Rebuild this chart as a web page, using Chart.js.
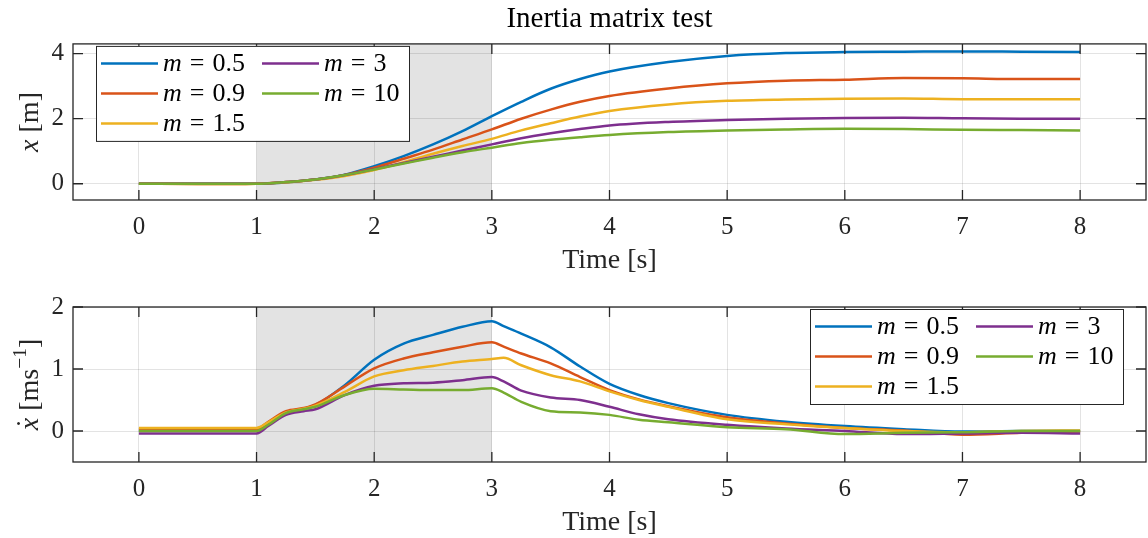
<!DOCTYPE html>
<html>
<head>
<meta charset="utf-8">
<script src="https://cdn.jsdelivr.net/npm/chart.js@4.4.1/dist/chart.umd.min.js"></script>
<style>
  body { margin: 0; background: #fff; }
  .box { position: absolute; left: 0; width: 1148px; }
</style>
</head>
<body>
<div class="box" style="top:270px;height:268px"><canvas id="velChart"></canvas></div>
<div class="box" style="top:0;height:285px"><canvas id="posChart"></canvas></div>
<script>
// masses used in the test, one curve per mass
var masses = ['0.5', '0.9', '1.5', '3', '10'];
var colors = ['#0072BD', '#D95319', '#EDB120', '#7E2F8E', '#77AC30'];

// shaded input window [s]
var shadeStart = 1;
var shadeEnd = 3;

// position x [m]
var posTime = [0, 0.5, 1, 1.25, 1.5, 1.75, 2, 2.25, 2.5, 2.75, 3, 3.25, 3.5, 3.75, 4, 4.5, 5, 5.5, 6, 6.5, 7, 7.5, 8];
var posM05 = [0, 0, 0, 0.04, 0.13, 0.28, 0.54, 0.85, 1.21, 1.62, 2.08, 2.52, 2.92, 3.22, 3.45, 3.74, 3.93, 4.02, 4.05, 4.06, 4.07, 4.06, 4.05];
var posM09 = [0, -0.01, 0, 0.05, 0.13, 0.27, 0.49, 0.77, 1.05, 1.36, 1.67, 2.0, 2.28, 2.52, 2.70, 2.93, 3.09, 3.17, 3.20, 3.25, 3.24, 3.22, 3.22];
var posM15 = [0, -0.01, 0, 0.04, 0.12, 0.24, 0.42, 0.66, 0.92, 1.16, 1.38, 1.64, 1.86, 2.07, 2.24, 2.44, 2.55, 2.59, 2.61, 2.62, 2.60, 2.60, 2.60];
var posM3 = [0, 0, 0, 0.05, 0.13, 0.27, 0.45, 0.64, 0.83, 1.02, 1.21, 1.40, 1.55, 1.68, 1.79, 1.90, 1.96, 2.0, 2.02, 2.03, 2.01, 2.0, 2.0];
var posM10 = [0, 0, 0, 0.05, 0.13, 0.27, 0.44, 0.62, 0.80, 0.97, 1.11, 1.25, 1.35, 1.43, 1.50, 1.59, 1.64, 1.67, 1.69, 1.68, 1.66, 1.65, 1.64];

// velocity xdot [m/s]
var velTime = [0, 0.5, 1, 1.1, 1.25, 1.4, 1.5, 1.75, 2, 2.25, 2.5, 2.75, 3, 3.1, 3.25, 3.5, 3.75, 4, 4.25, 4.5, 5, 5.5, 6, 6.5, 7, 7.5, 8];
var velM05 = [0.01, 0.01, 0.01, 0.12, 0.29, 0.36, 0.42, 0.74, 1.15, 1.41, 1.55, 1.68, 1.77, 1.69, 1.57, 1.35, 1.04, 0.76, 0.58, 0.45, 0.26, 0.15, 0.08, 0.03, -0.01, 0.0, 0.0];
var velM09 = [0.03, 0.03, 0.03, 0.15, 0.32, 0.37, 0.43, 0.72, 1.01, 1.17, 1.27, 1.36, 1.43, 1.36, 1.25, 1.09, 0.87, 0.66, 0.51, 0.40, 0.22, 0.12, 0.05, 0.01, -0.06, -0.03, -0.01];
var velM15 = [0.05, 0.05, 0.05, 0.14, 0.30, 0.36, 0.41, 0.63, 0.88, 0.98, 1.05, 1.12, 1.16, 1.18, 1.06, 0.90, 0.80, 0.64, 0.50, 0.39, 0.19, 0.11, 0.05, 0.0, -0.02, 0.0, 0.01];
var velM3 = [-0.04, -0.04, -0.04, 0.08, 0.26, 0.32, 0.35, 0.58, 0.73, 0.77, 0.78, 0.82, 0.87, 0.80, 0.65, 0.54, 0.50, 0.39, 0.27, 0.19, 0.10, 0.04, 0.0, -0.05, -0.04, -0.03, -0.04];
var velM10 = [0, 0, 0, 0.10, 0.29, 0.35, 0.39, 0.58, 0.68, 0.67, 0.66, 0.66, 0.69, 0.62, 0.47, 0.32, 0.30, 0.26, 0.18, 0.14, 0.06, 0.03, -0.05, -0.03, -0.02, 0.0, 0.0];

var FONT = 'Liberation Serif';
var TXT = '#262626';
Chart.defaults.font.family = FONT;
Chart.defaults.color = TXT;

function makeDatasets(time, series) {
  return series.map(function (vals, k) {
    return {
      label: 'm = ' + masses[k],
      data: time.map(function (t, i) { return { x: t, y: vals[i] }; }),
      borderColor: colors[k],
      backgroundColor: colors[k],
      borderWidth: 2.5,
      pointRadius: 0,
      cubicInterpolationMode: 'monotone',
      order: series.length - k   // later curves on top, like MATLAB
    };
  });
}

// draw text pieces in a row; italic / superscript / dot-above pieces
function drawRuns(ctx, runs, x, y, size) {
  runs.forEach(function (r) {
    var s = r.sup ? size * 0.7 : size;
    ctx.font = (r.it ? 'italic ' : '') + s + 'px "' + FONT + '"';
    var w = ctx.measureText(r.t).width;
    ctx.fillText(r.t, x, r.sup ? y - size * 0.42 : y);
    if (r.dot) {
      ctx.font = s + 'px "' + FONT + '"';
      ctx.textAlign = 'center';
      ctx.fillText('\u02D9', x + w * 0.55, y - size * 0.12);
      ctx.textAlign = 'left';
    }
    x += w + (r.gap || 0);
  });
  return x;
}
function runsWidth(ctx, runs, size) {
  var w = 0;
  runs.forEach(function (r) {
    var s = r.sup ? size * 0.7 : size;
    ctx.font = (r.it ? 'italic ' : '') + s + 'px "' + FONT + '"';
    w += ctx.measureText(r.t).width + (r.gap || 0);
  });
  return w;
}

var matlabAxes = {
  id: 'matlabAxes',
  beforeDraw: function (chart) {
    var a = chart.chartArea, ctx = chart.ctx, xs = chart.scales.x;
    var x0 = xs.getPixelForValue(shadeStart), x1 = xs.getPixelForValue(shadeEnd);
    ctx.save();
    ctx.fillStyle = '#e3e3e3';
    ctx.fillRect(x0, a.top, x1 - x0, a.bottom - a.top);
    ctx.restore();
  },
  afterDatasetsDraw: function (chart) {
    var a = chart.chartArea, ctx = chart.ctx, xs = chart.scales.x, ys = chart.scales.y;
    var tl = 10;
    ctx.save();
    ctx.strokeStyle = TXT;
    ctx.lineWidth = 1.3;
    ctx.strokeRect(a.left, a.top, a.right - a.left, a.bottom - a.top);
    ctx.beginPath();
    xs.ticks.forEach(function (t) {
      var px = xs.getPixelForValue(t.value);
      ctx.moveTo(px, a.bottom); ctx.lineTo(px, a.bottom - tl);
      ctx.moveTo(px, a.top); ctx.lineTo(px, a.top + tl);
    });
    ys.ticks.forEach(function (t) {
      var py = ys.getPixelForValue(t.value);
      ctx.moveTo(a.left, py); ctx.lineTo(a.left + tl, py);
      ctx.moveTo(a.right, py); ctx.lineTo(a.right - tl, py);
    });
    ctx.stroke();
    ctx.restore();
  },
  afterDraw: function (chart, args, opts) {
    var a = chart.chartArea, ctx = chart.ctx;
    ctx.save();
    // y axis label, rotated
    var ysz = 28;
    var yw = runsWidth(ctx, opts.yRuns, ysz);
    ctx.translate(38, (a.top + a.bottom) / 2);
    ctx.rotate(-Math.PI / 2);
    ctx.fillStyle = TXT;
    ctx.textBaseline = 'alphabetic';
    ctx.textAlign = 'left';
    drawRuns(ctx, opts.yRuns, -yw / 2, 0, ysz);
    ctx.restore();

    // legend, 3 rows, column-major
    var sets = chart.data.datasets;
    var rows = 3, rowH = 30, colW = 161, lineLen = 57, lsz = 26;
    var bw = 313, bh = 95;
    var bx = opts.legendSide === 'right' ? a.right - 23 - bw : a.left + 23;
    var by = a.top + 2;
    ctx.save();
    ctx.fillStyle = '#fff';
    ctx.fillRect(bx, by, bw, bh);
    ctx.strokeStyle = TXT;
    ctx.lineWidth = 1;
    ctx.strokeRect(bx + 0.5, by + 0.5, bw, bh);
    ctx.textBaseline = 'middle';
    sets.forEach(function (ds, k) {
      var col = Math.floor(k / rows), row = k % rows;
      var lx = bx + 5 + col * colW;
      var ly = by + 17.5 + row * rowH;
      ctx.strokeStyle = ds.borderColor;
      ctx.lineWidth = 2.5;
      ctx.beginPath();
      ctx.moveTo(lx, ly); ctx.lineTo(lx + lineLen, ly);
      ctx.stroke();
      ctx.fillStyle = '#000';
      var parts = ds.label.split(' = ');
      drawRuns(ctx, [
        { t: parts[0], it: true, gap: 8 },
        { t: '=', gap: 8 },
        { t: parts[1] }
      ], lx + lineLen + 5, ly + 1, lsz);
    });
    ctx.restore();
  }
};

function axisOptions(yMin, yMax, yStep, xHeight, xTitlePad) {
  var grid = { color: 'rgba(0,0,0,0.11)', lineWidth: 1, drawTicks: false };
  return {
    x: {
      type: 'linear', min: -0.56, max: 8.56,
      ticks: { stepSize: 1, includeBounds: false, padding: 12, maxRotation: 0, font: { size: 25 } },
      grid: grid,
      border: { display: false },
      title: { display: true, text: 'Time [s]', font: { size: 28 }, padding: { top: 0, bottom: xTitlePad } },
      afterFit: function (s) { s.height = xHeight; }
    },
    y: {
      min: yMin, max: yMax,
      ticks: { stepSize: yStep, includeBounds: false, padding: 9, font: { size: 25 } },
      grid: grid,
      border: { display: false },
      afterFit: function (s) { s.width = 73; }
    }
  };
}

new Chart(document.getElementById('posChart'), {
  type: 'line',
  data: { datasets: makeDatasets(posTime, [posM05, posM09, posM15, posM3, posM10]) },
  plugins: [matlabAxes],
  options: {
    responsive: true,
    maintainAspectRatio: false,
    animation: false,
    layout: { padding: { left: 0, right: 2, top: 0, bottom: 0 } },
    scales: axisOptions(-0.5, 4.3, 2, 85, 8),
    plugins: {
      legend: { display: false },
      tooltip: { enabled: false },
      title: {
        display: true, text: 'Inertia matrix test', fullSize: false,
        color: '#000', font: { size: 29, weight: 'normal', lineHeight: 1.1 },
        padding: { top: 3, bottom: 9 }
      },
      matlabAxes: { legendSide: 'left', yRuns: [{ t: 'x', it: true }, { t: ' [m]' }] }
    }
  }
});

new Chart(document.getElementById('velChart'), {
  type: 'line',
  data: { datasets: makeDatasets(velTime, [velM05, velM09, velM15, velM3, velM10]) },
  plugins: [matlabAxes],
  options: {
    responsive: true,
    maintainAspectRatio: false,
    animation: false,
    layout: { padding: { left: 0, right: 2, top: 37, bottom: 0 } },
    scales: axisOptions(-0.5, 2, 1, 76, -1),
    plugins: {
      legend: { display: false },
      tooltip: { enabled: false },
      matlabAxes: {
        legendSide: 'right',
        yRuns: [{ t: 'x', it: true, dot: true }, { t: ' [ms' }, { t: '\u22121', sup: true }, { t: ']' }]
      }
    }
  }
});
</script>
</body>
</html>
